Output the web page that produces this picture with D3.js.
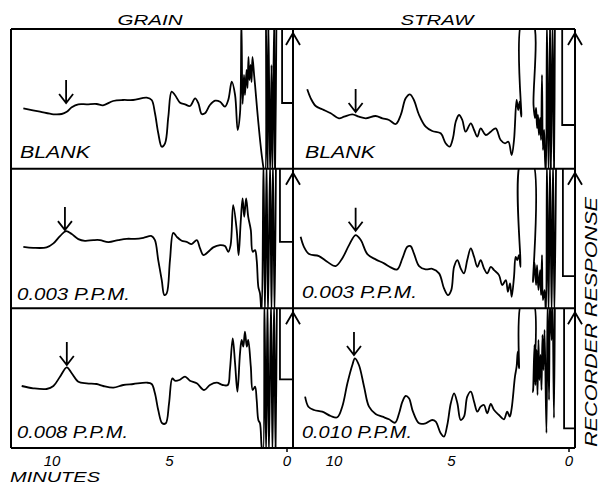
<!DOCTYPE html>
<html><head><meta charset="utf-8">
<script src="https://cdn.jsdelivr.net/npm/d3@7"></script>
<style>
body{margin:0;background:#fff}
text{font-family:"Liberation Sans",Arial,sans-serif;font-style:italic;fill:#000}
</style>
</head><body><svg id="c" width="601" height="486"></svg>
<script>
// ---------------- data ----------------
const columnTitles = ["GRAIN", "STRAW"];
const rowLabels = [["BLANK", "BLANK"], ["0.003 P.P.M.", "0.003 P.P.M."], ["0.008 P.P.M.", "0.010  P.P.M."]];
const xTicks = [10, 5, 0];
const xLabel = "MINUTES";
const yLabel = "RECORDER RESPONSE";

// [minutes, recorder response] ; values beyond the panel are off-scale pen excursions
const grainBlank = [[11.22,60.4],[10.51,57.0],[9.94,54.4],[9.59,54.7],[9.37,57.0],[9.16,61.4],[8.88,64.4],[8.52,64.4],[8.10,64.7],[7.83,63.4],[7.40,67.7],[6.98,68.7],[6.55,68.7],[5.97,71.0],[5.76,68.7],[5.62,55.7],[5.48,35.7],[5.33,22.0],[5.19,25.4],[5.05,52.0],[4.91,77.0],[4.77,73.7],[4.55,66.0],[4.34,64.4],[4.13,62.7],[3.91,70.4],[3.77,65.4],[3.63,54.7],[3.49,55.4],[3.28,63.7],[3.06,68.0],[2.85,67.0],[2.64,62.0],[2.50,68.7],[2.35,87.0],[2.21,73.7],[2.10,38.7],[2.00,55.4],[1.94,148],[1.89,64.7],[1.83,93.7],[1.79,73.7],[1.72,98.7],[1.68,80.7],[1.64,111.7],[1.60,88.7],[1.55,103.7],[1.51,86.7],[1.47,111.7],[1.40,93.7],[1.36,83.7],[1.23,48.7],[1.06,10.7],[0.94,-6],[0.89,148],[0.83,-6],[0.79,148],[0.72,-6],[0.66,103.7],[0.62,-6],[0.55,148],[0.51,-6],[0.45,148]];
const strawBlank = [[11.14,79.4],[10.99,70.4],[10.78,62.7],[10.50,59.4],[10.14,55.4],[9.79,50.4],[9.57,52.0],[9.22,54.4],[8.94,52.0],[8.65,50.4],[8.23,52.7],[7.94,50.4],[7.66,48.7],[7.37,44.7],[7.16,53.7],[6.95,70.4],[6.77,74.4],[6.60,68.7],[6.38,53.7],[6.10,42.0],[5.82,37.7],[5.46,35.4],[5.25,25.4],[5.08,22.0],[4.94,30.4],[4.82,47.0],[4.68,53.7],[4.54,48.7],[4.40,37.0],[4.18,45.4],[4.04,38.7],[3.90,32.0],[3.76,40.4],[3.54,33.7],[3.33,37.0],[3.12,40.4],[2.91,28.7],[2.72,25.4],[2.58,27.0],[2.44,13.7],[2.34,28.7],[2.23,68.7],[2.16,58.7],[2.10,67.0],[2.03,52.0],[1.99,148],[1.56,148],[1.51,63.7],[1.45,50.7],[1.40,60.7],[1.36,40.7],[1.32,53.7],[1.28,33.7],[1.23,50.7],[1.19,28.7],[1.15,93.7],[1.11,18.7],[1.06,38.7],[1.02,8.7],[0.98,-6],[0.94,148],[0.87,-6],[0.81,148],[0.77,-6],[0.70,148],[0.64,-6],[0.60,148]];
const grainLow = [[11.22,61.6],[10.80,60.6],[10.23,61.0],[9.94,65.0],[9.66,72.3],[9.40,77.3],[9.16,74.3],[8.88,69.3],[8.60,67.6],[8.24,68.3],[7.96,68.3],[7.60,66.3],[7.18,68.3],[6.82,69.6],[6.47,69.6],[6.11,70.6],[5.76,72.3],[5.62,68.3],[5.48,48.3],[5.33,28.3],[5.22,13.3],[5.12,15.0],[4.98,48.3],[4.84,75.6],[4.69,71.6],[4.48,67.6],[4.27,66.6],[4.06,64.3],[3.84,68.3],[3.70,60.0],[3.56,53.3],[3.35,56.6],[3.14,61.0],[2.85,63.3],[2.64,62.3],[2.50,56.6],[2.40,63.3],[2.29,103.3],[2.14,78.3],[2.06,53.3],[1.97,86.6],[1.89,110.0],[1.82,91.6],[1.74,110.0],[1.65,91.6],[1.54,78.3],[1.46,56.6],[1.36,58.3],[1.29,48.3],[1.22,21.6],[1.15,15.0],[1.08,-6],[1.00,148],[0.94,-6],[0.87,148],[0.81,-6],[0.72,148],[0.66,-6],[0.60,148],[0.53,-6],[0.47,148]];
const strawLow = [[11.42,71.6],[11.28,61.6],[11.06,54.3],[10.64,52.3],[10.29,46.6],[9.93,42.3],[9.65,50.0],[9.36,63.3],[9.08,73.3],[8.86,68.3],[8.58,54.3],[8.23,49.0],[7.87,45.0],[7.59,41.0],[7.31,39.0],[7.09,50.0],[6.88,61.6],[6.74,62.3],[6.60,55.0],[6.38,42.3],[6.10,39.0],[5.82,39.6],[5.53,35.0],[5.32,20.0],[5.15,13.3],[5.01,18.3],[4.89,41.6],[4.75,48.3],[4.61,40.0],[4.47,35.0],[4.33,48.3],[4.18,60.0],[4.04,51.6],[3.90,41.6],[3.76,48.3],[3.62,40.0],[3.48,35.0],[3.33,41.6],[3.19,38.3],[2.98,33.3],[2.84,23.3],[2.69,28.3],[2.60,16.6],[2.51,25.0],[2.44,11.6],[2.34,31.6],[2.27,51.6],[2.20,48.3],[2.13,53.3],[2.06,41.6],[2.03,148],[1.57,148],[1.53,26.3],[1.47,46.3],[1.40,23.3],[1.36,43.3],[1.30,18.3],[1.23,38.3],[1.19,13.3],[1.15,53.3],[1.11,8.3],[1.04,18.3],[0.98,-6],[0.94,148],[0.87,-6],[0.81,148],[0.74,-6],[0.68,148],[0.62,-6],[0.55,148]];
const grainHigh = [[11.29,62.0],[10.80,59.7],[10.23,59.0],[9.94,62.0],[9.66,71.3],[9.37,80.7],[9.16,74.7],[8.88,66.3],[8.52,64.7],[8.10,64.0],[7.82,62.0],[7.39,60.3],[6.97,63.0],[6.54,64.0],[5.97,65.3],[5.76,64.0],[5.62,54.7],[5.48,38.0],[5.31,24.7],[5.16,24.7],[5.02,44.7],[4.88,69.7],[4.77,67.3],[4.58,68.0],[4.34,71.3],[4.13,67.3],[3.84,64.7],[3.53,58.0],[3.28,63.0],[2.99,65.3],[2.74,63.0],[2.52,63.0],[2.43,78.0],[2.31,109.7],[2.21,84.7],[2.11,56.3],[2.00,94.7],[1.93,108.0],[1.86,101.3],[1.79,116.3],[1.71,101.3],[1.65,108.0],[1.54,81.3],[1.46,58.0],[1.36,61.3],[1.29,48.0],[1.22,28.0],[1.15,24.7],[1.08,1.3],[1.02,-6],[0.96,148],[0.89,-6],[0.83,148],[0.77,-6],[0.68,148],[0.62,-6],[0.55,148],[0.49,-6],[0.43,148]];
const strawHigh = [[11.23,51.3],[11.09,41.3],[10.85,38.0],[10.50,36.3],[10.14,32.0],[9.86,30.7],[9.65,41.3],[9.43,64.7],[9.22,83.0],[9.11,89.7],[8.94,83.0],[8.72,61.3],[8.51,41.3],[8.23,34.0],[7.94,31.3],[7.66,28.7],[7.40,25.3],[7.23,34.7],[7.09,46.3],[6.95,52.0],[6.81,49.7],[6.64,36.3],[6.38,24.7],[6.10,24.7],[5.82,28.0],[5.67,26.3],[5.46,14.7],[5.32,11.3],[5.18,23.0],[5.03,44.7],[4.89,54.7],[4.75,44.7],[4.61,28.0],[4.47,31.3],[4.33,51.3],[4.18,56.3],[4.04,46.3],[3.90,36.3],[3.76,41.3],[3.62,43.0],[3.48,34.7],[3.33,44.0],[3.19,38.0],[2.98,33.0],[2.77,28.7],[2.63,36.3],[2.52,31.3],[2.44,39.7],[2.30,71.3],[2.23,81.3],[2.18,96.3],[2.13,79.7],[1.99,148],[1.55,148],[1.53,56.0],[1.47,103.0],[1.43,63.0],[1.38,98.0],[1.34,53.0],[1.30,108.0],[1.26,68.0],[1.21,93.0],[1.17,58.0],[1.13,113.0],[1.09,78.0],[1.04,118.0],[0.96,15.0],[0.91,148],[0.85,48.0],[0.81,148],[0.74,108.0],[0.70,148],[0.64,30.0],[0.60,148]];

// marked peak arrows: [minutes, response at arrow tip], row-major order
const peakArrows = [[9.40,65.7],[9.08,56.7],[9.45,78.3],[9.08,77.6],[9.37,83.0],[9.15,93.0]];
// pen return before injection: [minutes, baseline response]
const penSteps = [[0.21,65.7],[0.29,43.7],[0.30,66.6],[0.26,32.3],[0.30,68.7],[0.21,19.7]];
const traces = [grainBlank, strawBlank, grainLow, strawLow, grainHigh, strawHigh];

// ---------------- layout ----------------
const svg = d3.select("#c");
const colRange = [[11, 293], [293, 575]];
const rowTop = [29, 168.7, 308.3];
const rowH = 139.7;
const xDomain = [11.745, -0.255];
const yDomain = [0, 139.7];
const labelLayout = [
  {dx: 9, dy: 10.7, len: 70, fs: 17}, {dx: 12, dy: 10.7, len: 70, fs: 17},
  {dx: 6, dy: 8.3, len: 113, fs: 16}, {dx: 9, dy: 10.3, len: 115, fs: 16},
  {dx: 6, dy: 10, len: 111, fs: 16}, {dx: 9, dy: 10, len: 110, fs: 16}
];
const defs = svg.append("defs");

const xScales = colRange.map(r => d3.scaleLinear().domain(xDomain).range(r));

for (let r = 0; r < 3; r++) {
  for (let c = 0; c < 2; c++) {
    const i = r * 2 + c;
    const x = xScales[c];
    const y = d3.scaleLinear().domain(yDomain).range([rowTop[r] + rowH, rowTop[r]]);
    const cid = "clip" + i;
    defs.append("clipPath").attr("id", cid).append("rect")
      .attr("x", colRange[c][0]).attr("y", rowTop[r])
      .attr("width", colRange[c][1] - colRange[c][0]).attr("height", rowH);
    const g = svg.append("g").attr("clip-path", `url(#${cid})`);
    const line = d3.line().x(d => x(d[0])).y(d => y(d[1])).curve(d3.curveCatmullRom.alpha(0.5));
    g.append("path").datum(traces[i]).attr("d", line)
      .attr("fill", "none").attr("stroke", "#000").attr("stroke-width", 1.8).attr("stroke-linejoin", "round");
    // pen step
    const st = penSteps[i];
    const stepLine = d3.line().x(d => x(d[0])).y(d => y(d[1]));
    g.append("path").datum([[st[0], 148], [st[0], st[1]], [xDomain[1], st[1]]]).attr("d", stepLine)
      .attr("fill", "none").attr("stroke", "#000").attr("stroke-width", 1.8);
    // peak arrow
    const pa = peakArrows[i];
    const ax = x(pa[0]), ay = y(pa[1]);
    svg.append("path").attr("d", `M${ax},${ay - 23}L${ax},${ay}M${ax - 7},${ay - 9}L${ax},${ay}L${ax + 7},${ay - 9}`)
      .attr("fill", "none").attr("stroke", "#000").attr("stroke-width", 1.8).attr("stroke-linejoin", "miter");
    // right-edge injection arrow head
    const ex = colRange[c][1], ey = rowTop[r] + 4;
    svg.append("path").attr("d", `M${ex - 7},${ey + 12}L${ex},${ey}L${ex + 7},${ey + 12}`)
      .attr("fill", "none").attr("stroke", "#000").attr("stroke-width", 1.8);
    // label
    const L = labelLayout[i];
    svg.append("text").attr("x", colRange[c][0] + L.dx).attr("y", rowTop[r] + rowH - L.dy)
      .attr("font-size", L.fs).attr("textLength", L.len).attr("lengthAdjust", "spacingAndGlyphs")
      .text(rowLabels[r][c]);
  }
}

// frame
const frame = svg.append("g").attr("stroke", "#000").attr("stroke-width", 2).attr("fill", "none");
[rowTop[0], rowTop[1], rowTop[2], rowTop[2] + rowH].forEach(yy =>
  frame.append("line").attr("x1", colRange[0][0]).attr("x2", colRange[1][1]).attr("y1", yy).attr("y2", yy));
[colRange[0][0], colRange[0][1], colRange[1][1]].forEach(xx =>
  frame.append("line").attr("x1", xx).attr("x2", xx).attr("y1", rowTop[0]).attr("y2", rowTop[2] + rowH));

// column titles
const titleLayout = [{cx: 150, len: 65}, {cx: 437, len: 73}];
columnTitles.forEach((t, c) => {
  svg.append("text").attr("x", titleLayout[c].cx).attr("y", 25)
    .attr("text-anchor", "middle").attr("font-size", 14)
    .attr("textLength", titleLayout[c].len).attr("lengthAdjust", "spacingAndGlyphs").text(t);
});

// x tick labels via scales
xScales.forEach(x => {
  xTicks.forEach(t => {
    svg.append("text").attr("x", x(t)).attr("y", 466).attr("text-anchor", "middle")
      .attr("font-size", 15).text(t);
  });
  svg.append("line").attr("x1", x(0)).attr("x2", x(0)).attr("y1", 448).attr("y2", 452)
    .attr("stroke", "#000").attr("stroke-width", 1.5);
});
svg.append("text").attr("x", 10).attr("y", 482).attr("font-size", 14)
  .attr("textLength", 90).attr("lengthAdjust", "spacingAndGlyphs").text(xLabel);
svg.append("text").attr("transform", "translate(597,322) rotate(-90)").attr("text-anchor", "middle")
  .attr("font-size", 16).attr("textLength", 250).attr("lengthAdjust", "spacingAndGlyphs").text(yLabel);
</script>
</body></html>
